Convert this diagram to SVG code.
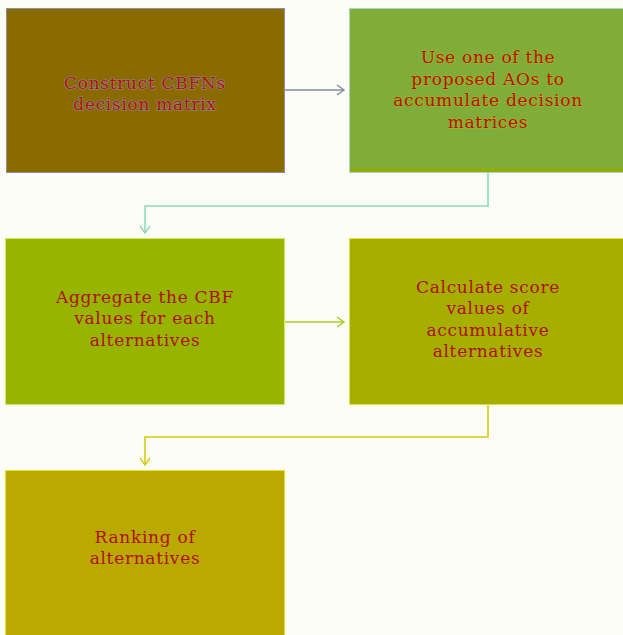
<svg xmlns="http://www.w3.org/2000/svg" width="623" height="635" viewBox="0 0 623 635">
<style>
text{font-family:"DejaVu Serif","Liberation Serif",serif;font-size:17px;letter-spacing:0.7px;fill:#b01000;text-anchor:middle}
.h1{stroke:#8a90a0;stroke-width:1.2;paint-order:stroke}
.h2{stroke:#b0b818;stroke-width:1;paint-order:stroke}
.c{fill:none;stroke-width:1.6}
</style>
<defs>
<marker id="a1" markerWidth="10" markerHeight="12" refX="8" refY="6" orient="auto" markerUnits="userSpaceOnUse"><path d="M1,1 L8,6 L1,11" fill="none" stroke="#7d8c98" stroke-width="1.4"/></marker>
<marker id="a2" markerWidth="10" markerHeight="12" refX="8" refY="6" orient="auto" markerUnits="userSpaceOnUse"><path d="M1,1 L8,6 L1,11" fill="none" stroke="#8ed8bc" stroke-width="1.4"/></marker>
<marker id="a3" markerWidth="10" markerHeight="12" refX="8" refY="6" orient="auto" markerUnits="userSpaceOnUse"><path d="M1,1 L8,6 L1,11" fill="none" stroke="#a8cc20" stroke-width="1.4"/></marker>
<marker id="a4" markerWidth="10" markerHeight="12" refX="8" refY="6" orient="auto" markerUnits="userSpaceOnUse"><path d="M1,1 L8,6 L1,11" fill="none" stroke="#d2cc10" stroke-width="1.4"/></marker>
</defs>
<rect width="623" height="635" fill="#fdfdf8"/>
<g id="connectors">
<path class="c" d="M285,90 H344" stroke="#7d8c98" marker-end="url(#a1)"/>
<path class="c" d="M488,173 V206 H145 V233" stroke="#8ed8bc" marker-end="url(#a2)"/>
<path class="c" d="M285,322 H344" stroke="#a8cc20" marker-end="url(#a3)"/>
<path class="c" d="M488,405 V437 H145 V465" stroke="#d2cc10" marker-end="url(#a4)"/>
</g>
<g id="n1">
<rect x="6.5" y="8.5" width="278" height="164" fill="#8b6b00" stroke="#8f8f96" stroke-width="1"/>
<text class="h1" x="145" y="89">Construct CBFNs</text>
<text class="h1" x="145" y="110">decision matrix</text>
</g>
<g id="n2">
<rect x="349.5" y="8.5" width="278" height="164" fill="#80ac3a" stroke="#a8d8c0" stroke-width="1"/>
<rect x="350" y="168" width="278" height="4" fill="#8fab10"/>
<text class="h2" x="488" y="63">Use one of the</text>
<text class="h2" x="488" y="85">proposed AOs to</text>
<text class="h2" x="488" y="106">accumulate decision</text>
<text class="h2" x="488" y="128">matrices</text>
</g>
<g id="n3">
<rect x="5.5" y="238.5" width="279" height="166" fill="#96b400" stroke="#d8e860" stroke-width="1"/>
<text x="145" y="303">Aggregate the CBF</text>
<text x="145" y="324">values for each</text>
<text x="145" y="346">alternatives</text>
</g>
<g id="n4">
<rect x="349.5" y="238.5" width="278" height="166" fill="#a6ae00" stroke="#e0e040" stroke-width="1"/>
<text x="488" y="293">Calculate score</text>
<text x="488" y="314">values of</text>
<text x="488" y="336">accumulative</text>
<text x="488" y="357">alternatives</text>
</g>
<g id="n5">
<rect x="5.5" y="470.5" width="279" height="166" fill="#baa900" stroke="#e8e030" stroke-width="1"/>
<text x="145" y="543">Ranking of</text>
<text x="145" y="564">alternatives</text>
</g>
</svg>
